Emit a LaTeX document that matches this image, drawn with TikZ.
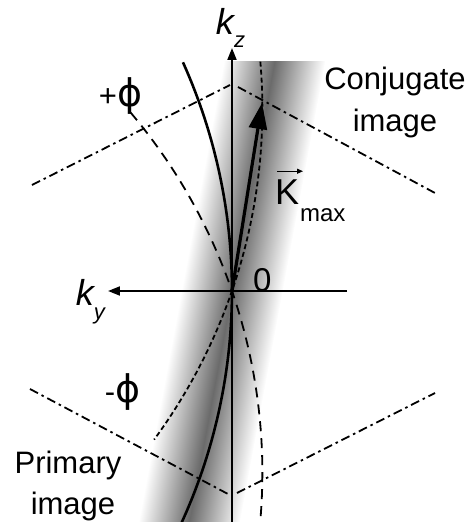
\documentclass[tikz,border=0pt]{standalone}
\usepackage{fontspec}
\setmainfont{Liberation Sans}
\newfontfamily\phifont{DejaVu Sans}
\usetikzlibrary{arrows.meta}
\newcommand{\axlabel}[3]{{\fontsize{36}{40}\selectfont\itshape #1\raisebox{-#3}{\fontsize{22}{22}\selectfont #2}}}
\newcommand{\bigphi}{{\phifont\fontsize{38}{40}\selectfont ϕ}}
\begin{document}
\begin{tikzpicture}[x=1pt,y=1pt,>={Triangle[length=12pt,width=9pt]},
  every node/.style={inner sep=0pt,outer sep=0pt,font=\fontsize{31}{36}\selectfont},
  ewald/.style={line width=2.6pt},
  dashplus/.style={line width=1.8pt,dash pattern=on 10pt off 7pt},
  dashminus/.style={line width=1.8pt,dash pattern=on 5pt off 3pt},
  limit/.style={line width=1.8pt,dash pattern=on 9pt off 4pt on 2.5pt off 4pt},
  axis/.style={line width=2pt}]
  \def\R{558}
  \useasboundingbox (-232,-231) rectangle (240,291);
  \coordinate (O) at (0,0);
  % shaded band
  \begin{scope}
    \clip (-232,-231) rectangle (240,229);
    \begin{scope}[transform canvas={rotate=-10.5}]
      \shade[left color=white,right color=white,middle color=black!58] (-50,-300) rectangle (50,300);
    \end{scope}
  \end{scope}
  % Ewald circles
  \draw[ewald] (-\R,0) ++(24.2:\R) arc[start angle=24.2,end angle=-24.5,radius=\R];
  \draw[dashplus,rotate=19] (-\R,0) ++(21.2:\R) arc[start angle=21.2,end angle=-24.1,radius=\R];
  \draw[dashminus,rotate=-19] (-\R,0) ++(23.9:\R) arc[start angle=23.9,end angle=-17.3,radius=\R];
  % limits
  \coordinate (ul1) at (-200,106); \coordinate (ul2) at (-2,206);
  \coordinate (ur1) at (6,204);    \coordinate (ur2) at (203,98);
  \coordinate (ll1) at (-202,-98); \coordinate (ll2) at (-4,-203);
  \coordinate (lr1) at (5,-202);   \coordinate (lr2) at (203,-102);
  \draw[limit] (ul1) -- (ul2);
  \draw[limit] (ur1) -- (ur2);
  \draw[limit] (ll1) -- (ll2);
  \draw[limit] (lr1) -- (lr2);
  % axes
  \coordinate (kzbot) at (0,-231); \coordinate (kztop) at (0,243);
  \coordinate (kyR) at (115,0);    \coordinate (kyL) at (-124,0);
  \draw[axis,->] (kzbot) -- (kztop);
  \draw[axis,->] (kyR) -- (kyL);
  % K max
  \coordinate (Kt) at (30,188);
  \draw[line width=3.2pt,-{Triangle[length=26pt,width=18pt]}] (O) -- (Kt);
  % labels
  \node[anchor=base west] (kz) at (-16,256) {\axlabel{k}{z}{13pt}};
  \node[anchor=base west] (ky) at (-156,-14) {\axlabel{k}{y}{14pt}};
  \node[anchor=base west,font=\fontsize{33}{36}\selectfont] (zero) at (21,-1) {0};
  \node[anchor=base west,font=\fontsize{36}{40}\selectfont] (Klbl) at (43,86) {K};
  \node[anchor=base west,font=\fontsize{24}{28}\selectfont] (maxlbl) at ([xshift=1pt,yshift=-17pt]Klbl.base east) {max};
  \draw[line width=1.3pt,-{Triangle[length=6pt,width=5pt]}] ([xshift=2pt,yshift=9pt]Klbl.north west) -- ([xshift=4pt,yshift=9pt]Klbl.north east);
  \node[anchor=base] (conj) at (163,201) {Conjugate};
  \node[anchor=base] (conjimg) at (163,159) {image};
  \node[anchor=base] (prim) at (-164,-182) {Primary};
  \node[anchor=base] (primimg) at (-159,-223) {image};
  \node[anchor=base west] (plusphi) at (-133,184) {+\bigphi};
  \node[anchor=base west] (minusphi) at (-127,-111) {-\bigphi};
\end{tikzpicture}
\end{document}
